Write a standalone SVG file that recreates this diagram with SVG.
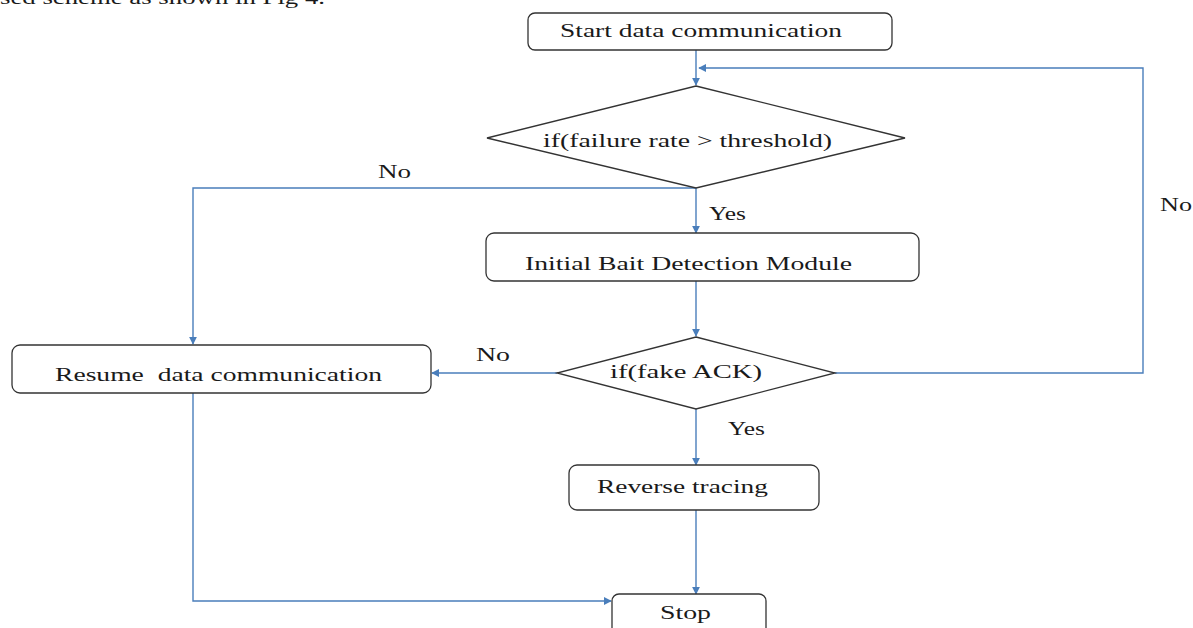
<svg xmlns="http://www.w3.org/2000/svg" width="1193" height="628" viewBox="0 0 1193 628">
<style>
  .box { fill: #ffffff; stroke: #333333; stroke-width: 1.3; }
  .t { font-family: "Liberation Serif", "Times New Roman", serif; font-size: 18px; fill: #1a1a1a; }
  .c { fill: none; stroke: #4a7ebb; stroke-width: 1.4; marker-end: url(#ah); }
</style>
<defs>
  <marker id="ah" viewBox="0 0 10 10" refX="9" refY="5" markerWidth="8" markerHeight="8" markerUnits="userSpaceOnUse" orient="auto">
    <path d="M0,0 L10,5 L0,10 z" fill="#4a7ebb"/>
  </marker>
</defs>
<rect width="1193" height="628" fill="#ffffff"/>
<text class="t" x="0" y="4" font-size="22" textLength="325" lengthAdjust="spacingAndGlyphs">sed scheme as shown in Fig 4.</text>

<g id="connectors">
  <path class="c" d="M696,50 L696,85"/>
  <path class="c" d="M835,373 L1143,373 L1143,68 L699,68"/>
  <path class="c" d="M696,188 L193,188 L193,344"/>
  <path class="c" d="M696,188 L696,233"/>
  <path class="c" d="M696,281 L696,336"/>
  <path class="c" d="M557,373 L432,373"/>
  <path class="c" d="M696,409 L696,465"/>
  <path class="c" d="M696,510 L696,594"/>
  <path class="c" d="M193,393 L193,601 L611,601"/>
</g>

<g id="start">
  <rect class="box" x="528" y="13" width="364" height="37" rx="7"/>
  <text class="t" x="560" y="37" textLength="282" lengthAdjust="spacingAndGlyphs">Start data communication</text>
</g>
<g id="decision1">
  <polygon class="box" points="696,86 905,138 696,188 487,138"/>
  <text class="t" x="543" y="147" textLength="289" lengthAdjust="spacingAndGlyphs">if(failure rate &gt; threshold)</text>
</g>
<g id="label-no1"><text class="t" x="378" y="178" textLength="33" lengthAdjust="spacingAndGlyphs">No</text></g>
<g id="label-yes1"><text class="t" x="709" y="220" textLength="37" lengthAdjust="spacingAndGlyphs">Yes</text></g>
<g id="bait">
  <rect class="box" x="486" y="233" width="433" height="48" rx="8"/>
  <text class="t" x="525" y="270" textLength="327" lengthAdjust="spacingAndGlyphs">Initial Bait Detection Module</text>
</g>
<g id="label-no-right"><text class="t" x="1160" y="211" textLength="32" lengthAdjust="spacingAndGlyphs">No</text></g>
<g id="decision2">
  <polygon class="box" points="696,337 835,373 696,409 557,373"/>
  <text class="t" x="610" y="378" textLength="152" lengthAdjust="spacingAndGlyphs">if(fake ACK)</text>
</g>
<g id="label-no2"><text class="t" x="476" y="361" textLength="34" lengthAdjust="spacingAndGlyphs">No</text></g>
<g id="resume">
  <rect class="box" x="12" y="345" width="419" height="48" rx="8"/>
  <text class="t" x="55" y="381" textLength="327" lengthAdjust="spacingAndGlyphs" style="white-space:pre" xml:space="preserve">Resume  data communication</text>
</g>
<g id="label-yes2"><text class="t" x="728" y="435" textLength="37" lengthAdjust="spacingAndGlyphs">Yes</text></g>
<g id="reverse">
  <rect class="box" x="569" y="465" width="250" height="45" rx="8"/>
  <text class="t" x="597" y="493" textLength="171" lengthAdjust="spacingAndGlyphs">Reverse tracing</text>
</g>
<g id="stop">
  <rect class="box" x="612" y="594" width="154" height="48" rx="7"/>
  <text class="t" x="660" y="619" textLength="51" lengthAdjust="spacingAndGlyphs">Stop</text>
</g>
</svg>
